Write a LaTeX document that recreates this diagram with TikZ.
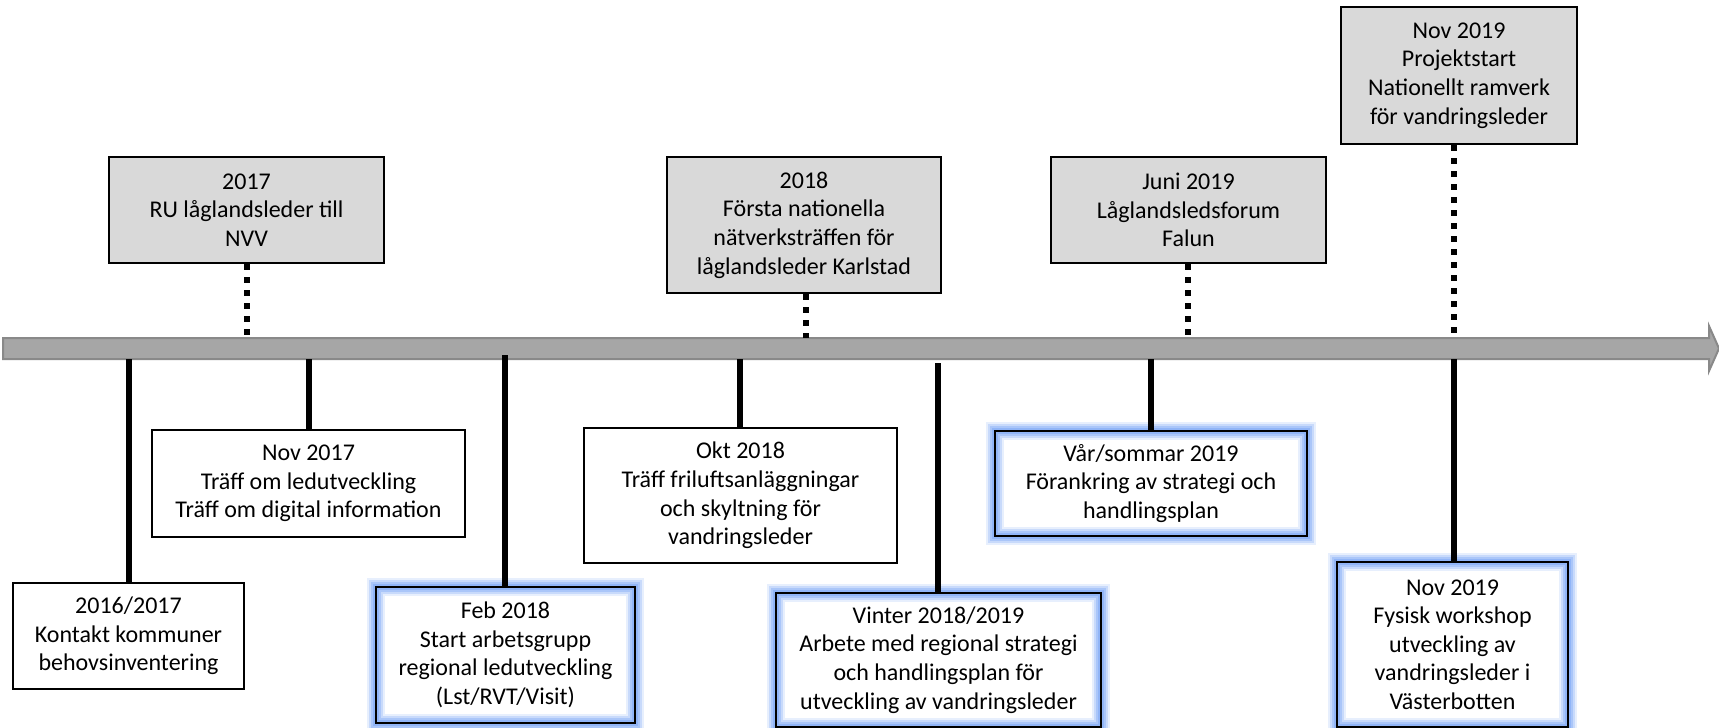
\documentclass[tikz,border=0pt]{standalone}
\usepackage{fontspec}
\setmainfont{Carlito}
\usetikzlibrary{positioning}
\definecolor{barfill}{RGB}{166,166,166}
\definecolor{barline}{RGB}{137,137,137}
\definecolor{boxgray}{RGB}{217,217,217}
\definecolor{glowblue}{RGB}{120,164,245}

\begin{document}
\begin{tikzpicture}[
    x=0.5pt, y=-0.5pt, % one unit = one pixel of the layout
    every node/.style={font=\fontsize{12pt}{14.3pt}\selectfont, align=center, inner sep=2pt},
    event/.style={rectangle, draw, line width=1pt},
    milestone/.style={event, fill=boxgray},
    glow/.style={event,
      preaction={draw=glowblue, draw opacity=0.18, line width=9pt},
      preaction={draw=glowblue, draw opacity=0.28, line width=7pt},
      preaction={draw=glowblue, draw opacity=0.38, line width=5pt},
      preaction={draw=glowblue, draw opacity=0.5, line width=3pt}},
    tick/.style={line width=3pt},
    dotline/.style={line width=3.2pt, dash pattern=on 3pt off 3.5pt}]

  \useasboundingbox (0,0) rectangle (1719,728);

  % Time axis
  \draw [fill=barfill, draw=barline, line width=1pt]
    (3,338) -- (1709,338) -- (1709,326) -- (1719,348.5) -- (1709,371)
    -- (1709,359) -- (3,359) -- cycle;

  % Milestones above the axis
  \node (ru) [milestone, minimum width=137.5pt, minimum height=53pt] at (246.5,210)
    {2017\\RU låglandsleder till\\NVV};
  \node (natverk) [milestone, minimum width=137pt, minimum height=68pt] at (804,225)
    {2018\\Första nationella\\nätverksträffen för\\låglandsleder Karlstad};
  \node (forum) [milestone, minimum width=137.5pt, minimum height=53pt] at (1188.5,210)
    {Juni 2019\\Låglandsledsforum\\Falun};
  \node (ramverk) [milestone, minimum width=118pt, minimum height=68.5pt] at (1459,75.5)
    {Nov 2019\\Projektstart\\Nationellt ramverk\\för vandringsleder};

  % Events below the axis
  \node (kontakt) [event, minimum width=115.5pt, minimum height=53pt] at (128.5,636)
    {2016/2017\\Kontakt kommuner\\behovsinventering};
  \node (traff) [event, minimum width=156.5pt, minimum height=53.5pt] at (308.5,483.5)
    {Nov 2017\\Träff om ledutveckling\\Träff om digital information};
  \node (arbgrupp) [glow, minimum width=129.5pt, minimum height=68pt] at (505.5,655)
    {Feb 2018\\Start arbetsgrupp\\regional ledutveckling\\(Lst/RVT/Visit)};
  \node (skylt) [event, minimum width=156.5pt, minimum height=67.5pt] at (740.5,495.5)
    {Okt 2018\\Träff friluftsanläggningar\\och skyltning för\\vandringsleder};
  \node (strategi) [glow, minimum width=162.5pt, minimum height=67pt] at (938.5,660)
    {Vinter 2018/2019\\Arbete med regional strategi\\och handlingsplan för\\utveckling av vandringsleder};
  \node (forankring) [glow, minimum width=156pt, minimum height=52.5pt] at (1151,483.5)
    {Vår/sommar 2019\\Förankring av strategi och\\handlingsplan};
  \node (workshop) [glow, minimum width=115.5pt, minimum height=82.5pt] at (1452.5,644.5)
    {Nov 2019\\Fysisk workshop\\utveckling av\\vandringsleder i\\Västerbotten};

  % Points on the axis
  \coordinate (a1) at (247,338);
  \coordinate (a2) at (806,338);
  \coordinate (a3) at (1188,338);
  \coordinate (a4) at (1454,338);
  \coordinate (b1) at (129,359);
  \coordinate (b2) at (309,359);
  \coordinate (b3) at (505,355);
  \coordinate (b4) at (740,359);
  \coordinate (b5) at (938,363);
  \coordinate (b6) at (1151,359);
  \coordinate (b7) at (1454,359);

  % Dotted links up to the milestones
  \draw [dotline] (a1 |- ru.south) -- (a1);
  \draw [dotline] (a2 |- natverk.south) -- (a2);
  \draw [dotline] (a3 |- forum.south) -- (a3);
  \draw [dotline] (a4 |- ramverk.south) -- (a4);

  % Solid links down to the events
  \draw [tick] (b1) -- (b1 |- kontakt.north);
  \draw [tick] (b2) -- (b2 |- traff.north);
  \draw [tick] (b3) -- (b3 |- arbgrupp.north);
  \draw [tick] (b4) -- (b4 |- skylt.north);
  \draw [tick] (b5) -- (b5 |- strategi.north);
  \draw [tick] (b6) -- (b6 |- forankring.north);
  \draw [tick] (b7) -- (b7 |- workshop.north);
\end{tikzpicture}
\end{document}
